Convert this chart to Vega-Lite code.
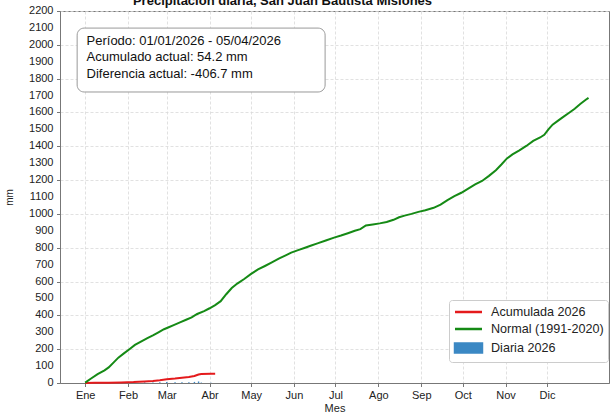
{
  "$schema": "https://vega.github.io/schema/vega-lite/v6.json",
  "autosize": "none",
  "width": 549,
  "height": 372,
  "padding": {"left": 60, "top": 11, "right": 1, "bottom": 34},
  "background": "white",
  "title": {
    "text": "Precipitación diaria, San Juan Bautista Misiones",
    "font": "Liberation Sans",
    "fontSize": 13,
    "fontWeight": "bold",
    "color": "#111",
    "anchor": "middle",
    "frame": "group",
    "baseline": "alphabetic",
    "offset": -13,
    "dx": -52
  },
  "config": {
    "view": {"stroke": "#777", "strokeWidth": 1},
    "axis": {
      "labelFont": "Liberation Sans",
      "titleFont": "Liberation Sans",
      "labelFontSize": 11,
      "titleFontSize": 11,
      "titleFontWeight": "normal",
      "labelColor": "#222",
      "titleColor": "#222",
      "domainColor": "#777",
      "tickColor": "#777",
      "tickSize": 3.5,
      "gridColor": "#d9d9d9",
      "gridDash": [3, 2],
      "gridWidth": 0.8,
      "labelOverlap": false,
      "labelFlush": false
    },
    "axisY": {"tickCount": 22},
    "scale": {"continuousPadding": 0}
  },
  "datasets": {
    "normal": [
      {"day": 1, "mm": 2}, {"day": 5, "mm": 25}, {"day": 10, "mm": 52}, {"day": 15, "mm": 75},
      {"day": 18, "mm": 92}, {"day": 22, "mm": 125}, {"day": 25, "mm": 150}, {"day": 29, "mm": 175},
      {"day": 33, "mm": 200}, {"day": 37, "mm": 225}, {"day": 42, "mm": 248}, {"day": 46, "mm": 265},
      {"day": 50, "mm": 282}, {"day": 54, "mm": 300}, {"day": 58, "mm": 318}, {"day": 61, "mm": 328},
      {"day": 65, "mm": 342}, {"day": 70, "mm": 360}, {"day": 74, "mm": 374}, {"day": 78, "mm": 388},
      {"day": 82, "mm": 408}, {"day": 87, "mm": 425}, {"day": 91, "mm": 442}, {"day": 95, "mm": 461},
      {"day": 99, "mm": 484}, {"day": 103, "mm": 525}, {"day": 107, "mm": 562}, {"day": 111, "mm": 588},
      {"day": 116, "mm": 615}, {"day": 121, "mm": 645}, {"day": 126, "mm": 672}, {"day": 131, "mm": 692},
      {"day": 136, "mm": 713}, {"day": 141, "mm": 735}, {"day": 146, "mm": 755}, {"day": 150, "mm": 771},
      {"day": 155, "mm": 786}, {"day": 160, "mm": 800}, {"day": 164, "mm": 812}, {"day": 169, "mm": 826},
      {"day": 175, "mm": 843}, {"day": 181, "mm": 860}, {"day": 186, "mm": 872}, {"day": 191, "mm": 886},
      {"day": 196, "mm": 900}, {"day": 200, "mm": 910}, {"day": 204, "mm": 932}, {"day": 209, "mm": 938},
      {"day": 214, "mm": 944}, {"day": 219, "mm": 952}, {"day": 224, "mm": 965}, {"day": 228, "mm": 980},
      {"day": 232, "mm": 990}, {"day": 237, "mm": 1000}, {"day": 242, "mm": 1012}, {"day": 247, "mm": 1022},
      {"day": 253, "mm": 1036}, {"day": 258, "mm": 1055}, {"day": 263, "mm": 1082}, {"day": 268, "mm": 1105},
      {"day": 273, "mm": 1125}, {"day": 278, "mm": 1150}, {"day": 283, "mm": 1175}, {"day": 288, "mm": 1195},
      {"day": 293, "mm": 1225}, {"day": 298, "mm": 1258}, {"day": 302, "mm": 1292}, {"day": 306, "mm": 1328},
      {"day": 310, "mm": 1352}, {"day": 315, "mm": 1376}, {"day": 320, "mm": 1402}, {"day": 325, "mm": 1432},
      {"day": 330, "mm": 1452}, {"day": 333, "mm": 1468}, {"day": 336, "mm": 1500}, {"day": 339, "mm": 1528},
      {"day": 343, "mm": 1552}, {"day": 347, "mm": 1575}, {"day": 351, "mm": 1598}, {"day": 355, "mm": 1622},
      {"day": 359, "mm": 1650}, {"day": 363, "mm": 1675}, {"day": 365, "mm": 1686}
    ],
    "acum": [
      {"day": 1, "mm": 0}, {"day": 8, "mm": 1.2}, {"day": 18, "mm": 2.0}, {"day": 27, "mm": 3.5},
      {"day": 36, "mm": 5.5}, {"day": 44, "mm": 9.0}, {"day": 50, "mm": 12.0}, {"day": 55, "mm": 16.5},
      {"day": 60, "mm": 22.0}, {"day": 66, "mm": 26.0}, {"day": 71, "mm": 31.0}, {"day": 76, "mm": 35.0},
      {"day": 80, "mm": 41.5}, {"day": 83, "mm": 50.5}, {"day": 85, "mm": 53.0}, {"day": 92, "mm": 54.2},
      {"day": 95, "mm": 54.2}
    ],
    "daily": [
      {"day": 8, "mm": 1.2}, {"day": 18, "mm": 0.8}, {"day": 27, "mm": 1.5}, {"day": 36, "mm": 2.0},
      {"day": 44, "mm": 3.5}, {"day": 50, "mm": 3.0}, {"day": 55, "mm": 4.5}, {"day": 60, "mm": 5.5},
      {"day": 66, "mm": 4.0}, {"day": 71, "mm": 5.0}, {"day": 76, "mm": 4.0}, {"day": 80, "mm": 6.5},
      {"day": 83, "mm": 9.0}, {"day": 85, "mm": 2.5}, {"day": 92, "mm": 1.2}
    ],
    "yticks": [
      {"v": 0}, {"v": 100}, {"v": 200}, {"v": 300}, {"v": 400}, {"v": 500}, {"v": 600}, {"v": 700},
      {"v": 800}, {"v": 900}, {"v": 1000}, {"v": 1100}, {"v": 1200}, {"v": 1300}, {"v": 1400}, {"v": 1500},
      {"v": 1600}, {"v": 1700}, {"v": 1800}, {"v": 1900}, {"v": 2000}, {"v": 2100}, {"v": 2200}
    ],
    "box": [{"label": "info"}]
  },
  "layer": [
    {
      "data": {"name": "daily"},
      "mark": {"type": "bar", "width": 1.4},
      "encoding": {
        "x": {
          "field": "day", "type": "quantitative",
          "scale": {"domain": [-17.2, 379.8], "nice": false, "zero": false, "padding": 0},
          "axis": {
            "title": "Mes",
            "values": [1, 32, 60, 91, 121, 152, 182, 213, 244, 274, 305, 335],
            "labelExpr": "['Ene','Feb','Mar','Abr','May','Jun','Jul','Ago','Sep','Oct','Nov','Dic'][indexof([1,32,60,91,121,152,182,213,244,274,305,335], datum.value)]",
            "labelPadding": 3,
            "titlePadding": 2
          }
        },
        "y": {
          "field": "mm", "type": "quantitative",
          "scale": {"domain": [0, 2200], "nice": false, "zero": true},
          "axis": {
            "title": "mm",
            "values": [0, 100, 200, 300, 400, 500, 600, 700, 800, 900, 1000, 1100, 1200, 1300, 1400, 1500, 1600, 1700, 1800, 1900, 2000, 2100, 2200],
            "tickCount": 22,
            "labels": false,
            "titleFontSize": 10,
            "titlePadding": 42
          }
        },
        "color": {"datum": "Diaria 2026"}
      }
    },
    {
      "data": {"name": "acum"},
      "mark": {"type": "line", "strokeWidth": 2},
      "encoding": {
        "x": {"field": "day", "type": "quantitative"},
        "y": {"field": "mm", "type": "quantitative"},
        "color": {"datum": "Acumulada 2026"}
      }
    },
    {
      "data": {"name": "normal"},
      "mark": {"type": "line", "strokeWidth": 2},
      "encoding": {
        "x": {"field": "day", "type": "quantitative"},
        "y": {"field": "mm", "type": "quantitative"},
        "color": {
          "datum": "Normal (1991-2020)",
          "scale": {
            "domain": ["Acumulada 2026", "Normal (1991-2020)", "Diaria 2026"],
            "range": ["#e41a1c", "#158a15", "#3b88c4"]
          },
          "legend": {
            "title": null,
            "orient": "none",
            "legendX": 389,
            "legendY": 289,
            "fillColor": "white",
            "strokeColor": "#cccccc",
            "cornerRadius": 3,
            "padding": 4,
            "labelFont": "Liberation Sans",
            "labelFontSize": 12.6,
            "labelColor": "#222",
            "labelOffset": 22,
            "symbolType": "stroke",
            "symbolSize": 100,
            "symbolStrokeWidth": 2.5,
            "rowPadding": 2,
            "encode": {
              "symbols": {
                "update": {
                  "shape": {"signal": "datum.value == 'Diaria 2026' ? 'M-2.1,-0.7H2.1V0.7H-2.1Z' : 'M-2.1,0H2.1'"},
                  "fill": {"signal": "datum.value == 'Diaria 2026' ? scale('color', datum.value) : 'transparent'"},
                  "stroke": {"signal": "datum.value == 'Diaria 2026' ? 'transparent' : scale('color', datum.value)"},
                  "strokeWidth": {"value": 2.5},
                  "size": {"value": 165},
                  "x": {"value": 15.5},
                  "opacity": {"value": 1}
                }
              }
            }
          }
        }
      }
    },
    {
      "data": {"name": "yticks"},
      "mark": {
        "type": "text",
        "align": "right",
        "baseline": "middle",
        "dx": -6.5,
        "clip": false,
        "font": "Liberation Sans",
        "fontSize": 11,
        "color": "#222"
      },
      "encoding": {
        "x": {"datum": -17.2, "type": "quantitative"},
        "y": {"field": "v", "type": "quantitative"},
        "text": {"field": "v", "type": "quantitative", "format": "d"}
      }
    },
    {
      "data": {"name": "box"},
      "mark": {"type": "rect", "fill": "white", "stroke": "#999999", "strokeWidth": 1, "cornerRadius": 7},
      "encoding": {
        "x": {"datum": -4.8, "type": "quantitative"},
        "x2": {"datum": 174.5},
        "y": {"datum": 2099, "type": "quantitative"},
        "y2": {"datum": 1721}
      }
    },
    {
      "data": {"name": "box"},
      "mark": {
        "type": "text",
        "align": "left",
        "baseline": "top",
        "font": "Liberation Sans",
        "fontSize": 13,
        "lineHeight": 16.5,
        "color": "#111",
        "text": ["Período: 01/01/2026 - 05/04/2026", "Acumulado actual: 54.2 mm", "Diferencia actual: -406.7 mm"]
      },
      "encoding": {
        "x": {"datum": 2.0, "type": "quantitative"},
        "y": {"datum": 2060, "type": "quantitative"}
      }
    }
  ]
}
